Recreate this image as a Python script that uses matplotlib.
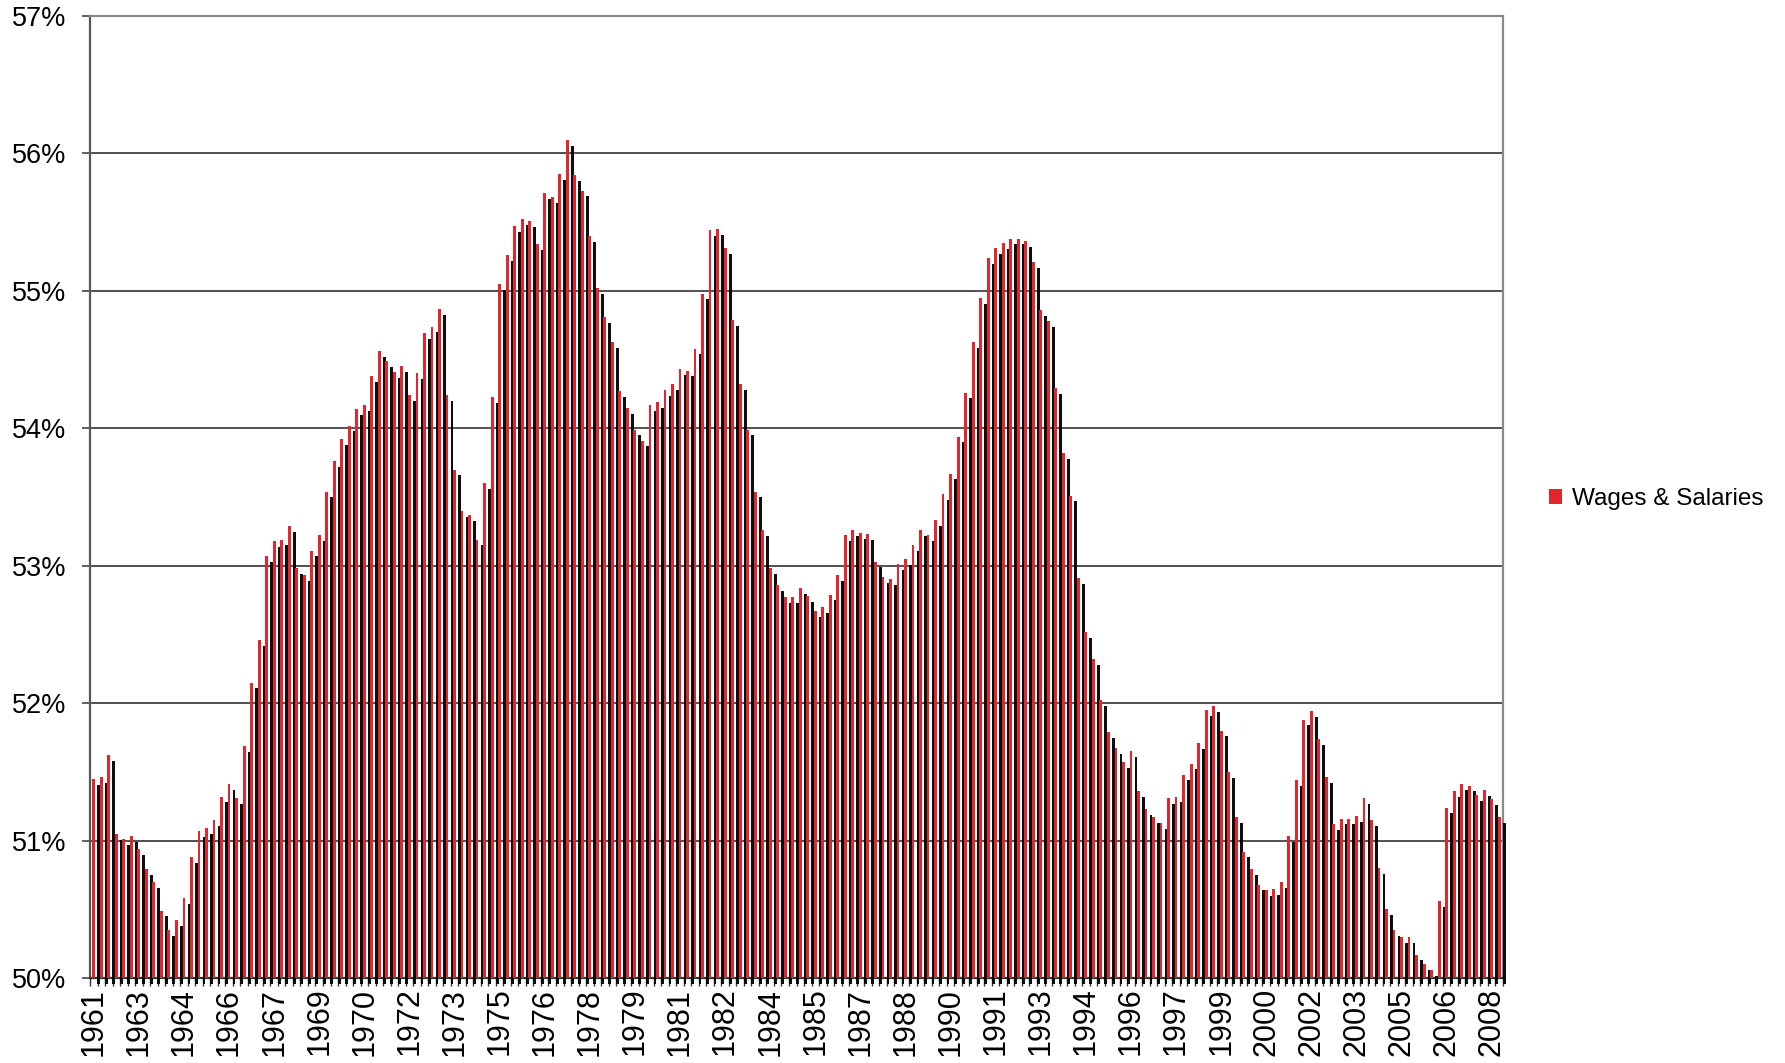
import numpy as np
import matplotlib
matplotlib.use('Agg')
import matplotlib.pyplot as plt
import matplotlib.patheffects as pe
from matplotlib.patches import Patch

plt.rcParams['font.family'] = ['Liberation Sans', 'DejaVu Sans']

# quarterly wages & salaries share (%), one value per quarter
wages_share = [
    51.45, 51.46, 51.62, 51.05, 51.01, 51.03, 50.94, 50.79, 50.70, 50.49,
    50.35, 50.42, 50.58, 50.88, 51.07, 51.09, 51.15, 51.32, 51.41, 51.31,
    51.69, 52.15, 52.46, 53.07, 53.18, 53.19, 53.29, 52.98, 52.93, 53.11,
    53.22, 53.54, 53.76, 53.92, 54.02, 54.14, 54.17, 54.38, 54.56, 54.49,
    54.41, 54.45, 54.24, 54.40, 54.69, 54.74, 54.87, 54.24, 53.70, 53.40,
    53.37, 53.19, 53.60, 54.23, 55.05, 55.26, 55.47, 55.52, 55.51, 55.34,
    55.71, 55.68, 55.85, 56.10, 55.84, 55.73, 55.40, 55.02, 54.81, 54.63,
    54.27, 54.15, 53.99, 53.91, 54.17, 54.19, 54.28, 54.32, 54.43, 54.42,
    54.58, 54.98, 55.44, 55.45, 55.31, 54.79, 54.32, 53.99, 53.54, 53.26,
    52.98, 52.86, 52.77, 52.77, 52.84, 52.78, 52.67, 52.70, 52.79, 52.93,
    53.22, 53.26, 53.24, 53.23, 53.03, 52.92, 52.90, 53.01, 53.05, 53.15,
    53.26, 53.22, 53.33, 53.52, 53.67, 53.94, 54.26, 54.63, 54.95, 55.24,
    55.31, 55.35, 55.38, 55.38, 55.36, 55.21, 54.86, 54.78, 54.29, 53.82,
    53.51, 52.91, 52.52, 52.32, 52.02, 51.79, 51.67, 51.57, 51.65, 51.36,
    51.23, 51.17, 51.13, 51.31, 51.32, 51.48, 51.56, 51.71, 51.95, 51.98,
    51.80, 51.50, 51.17, 50.92, 50.79, 50.68, 50.64, 50.65, 50.70, 51.03,
    51.44, 51.88, 51.94, 51.74, 51.46, 51.12, 51.16, 51.16, 51.18, 51.31,
    51.15, 50.80, 50.50, 50.35, 50.30, 50.30, 50.17, 50.10, 50.06, 50.56,
    51.24, 51.36, 51.41, 51.40, 51.33, 51.37, 51.30, 51.17,
]

# year labels shown on every 6th quarter
label_years = ['1961', '1963', '1964', '1966', '1967', '1969', '1970', '1972',
               '1973', '1975', '1976', '1978', '1979', '1981', '1982', '1984',
               '1985', '1987', '1988', '1990', '1991', '1993', '1994', '1996',
               '1997', '1999', '2000', '2002', '2003', '2005', '2006', '2008']
label_step = 6

y_min, y_max = 50, 57
bar_color = '#E2262E'

fig = plt.figure(figsize=(17.85, 10.63), dpi=100)
ax = fig.add_axes([90 / 1785, 1 - 978 / 1063, (1503 - 90) / 1785, (978 - 16) / 1063])

x = np.arange(len(wages_share))
values = np.array(wages_share)
bars = ax.bar(x, values - y_min, bottom=y_min, width=0.38, color=bar_color,
              linewidth=0, clip_on=False, zorder=3)

# Excel-style drop shadow to the lower right of each bar
shadow = [pe.SimplePatchShadow(offset=(3.6, -4.2), shadow_rgbFace='black', alpha=0.95),
          pe.Normal()]
for b in bars:
    b.set_path_effects(shadow)

ax.set_xlim(-0.5, len(wages_share) - 0.5)
ax.set_ylim(y_min, y_max)

# y axis
ax.set_yticks(range(y_min, y_max + 1))
ax.set_yticklabels([f'{v}%' for v in range(y_min, y_max + 1)], fontsize=19.5)
ax.tick_params(axis='y', length=6, width=1.2, color='#444444', pad=11)
ax.yaxis.grid(True, color='#333333', linewidth=1.2, zorder=1)
ax.set_axisbelow(True)

# x axis: tick marks between quarters, labels every 6 quarters
label_pos = x[::label_step][:len(label_years)]
ax.set_xticks(label_pos)
ax.set_xticklabels(label_years, rotation=90, fontsize=22)
ax.set_xticks(np.arange(-0.5, len(wages_share), 1), minor=True)
ax.tick_params(axis='x', which='major', length=0, pad=7)
ax.tick_params(axis='x', which='minor', length=6, width=1.0, color='#333333')

for side in ['top', 'right']:
    ax.spines[side].set_color('#8a8a8a')
    ax.spines[side].set_linewidth(1.6)
ax.spines['left'].set_color('#555555')
ax.spines['left'].set_linewidth(1.6)
ax.spines['bottom'].set_color('#333333')
ax.spines['bottom'].set_linewidth(1.6)

fig.legend(handles=[Patch(facecolor=bar_color, label='Wages & Salaries')],
           loc='center left', bbox_to_anchor=(1549 / 1785, 1 - 499 / 1063),
           frameon=False, fontsize=17.5, handlelength=0.55, handleheight=0.55,
           handletextpad=0.4, borderaxespad=0, borderpad=0)

fig.savefig('out.png', dpi=100)
